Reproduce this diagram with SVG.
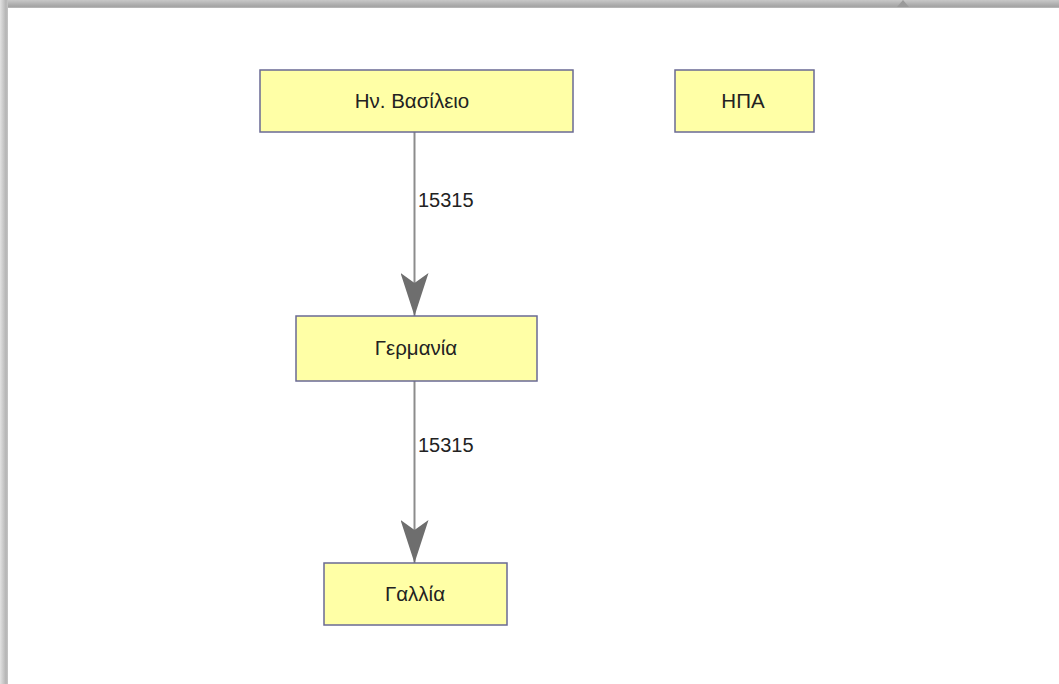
<svg xmlns="http://www.w3.org/2000/svg" width="1059" height="684" viewBox="0 0 1059 684">
  <defs>
    <linearGradient id="shadeTop" x1="0" y1="0" x2="0" y2="1">
      <stop offset="0" stop-color="#c8c8c8"/>
      <stop offset="0.8" stop-color="#a4a4a4"/>
      <stop offset="1" stop-color="#bdbdbd"/>
    </linearGradient>
    <linearGradient id="shadeLeft" x1="0" y1="0" x2="1" y2="0">
      <stop offset="0" stop-color="#e2e2e2"/>
      <stop offset="0.75" stop-color="#b4b4b4"/>
      <stop offset="1" stop-color="#c6c6c6"/>
    </linearGradient>
    <!-- barbed arrowhead, drawn along +x so orient="auto" follows the line -->
    <marker id="barb" viewBox="0 0 43 28" refX="43" refY="14" markerWidth="43" markerHeight="28" markerUnits="userSpaceOnUse" orient="auto">
      <polygon points="0,0 10,14 0,28 43,14" fill="#6e6e6e"/>
    </marker>
  </defs>
  <style>
    .node rect { fill: #ffffa6; stroke: #6a6a94; stroke-width: 1.5; }
    .node text { font-family: "Liberation Sans", Arial, sans-serif; font-size: 20.5px; fill: #222222; text-anchor: middle; }
    .edge { stroke: #8c8c8c; stroke-width: 2; fill: none; }
    .elabel { font-family: "Liberation Sans", Arial, sans-serif; font-size: 20px; fill: #222222; }
  </style>

  <!-- canvas and frame shading -->
  <rect x="0" y="0" width="1059" height="684" fill="#ffffff"/>
  <rect x="0" y="0" width="1059" height="8" fill="url(#shadeTop)"/>
  <rect x="0" y="0" width="8" height="684" fill="url(#shadeLeft)"/>
  <polygon points="897,7 903,0 909,7" fill="#9a9a9a"/>

  <!-- connectors -->
  <g id="connectors">
    <line class="edge" x1="414.5" y1="132" x2="414.5" y2="316" marker-end="url(#barb)"/>
    <text class="elabel" x="418" y="207">15315</text>
    <line class="edge" x1="414.5" y1="381" x2="414.5" y2="563" marker-end="url(#barb)"/>
    <text class="elabel" x="418" y="452">15315</text>
  </g>

  <!-- nodes -->
  <g id="uk" class="node">
    <rect x="260" y="70" width="313" height="62"/>
    <text x="412" y="108">Ην. Βασίλειο</text>
  </g>
  <g id="usa" class="node">
    <rect x="675" y="70" width="139" height="62"/>
    <text x="743" y="108">ΗΠΑ</text>
  </g>
  <g id="germany" class="node">
    <rect x="296" y="316" width="241" height="65"/>
    <text x="416" y="355">Γερμανία</text>
  </g>
  <g id="france" class="node">
    <rect x="324" y="563" width="183" height="62"/>
    <text x="415" y="601">Γαλλία</text>
  </g>
</svg>
